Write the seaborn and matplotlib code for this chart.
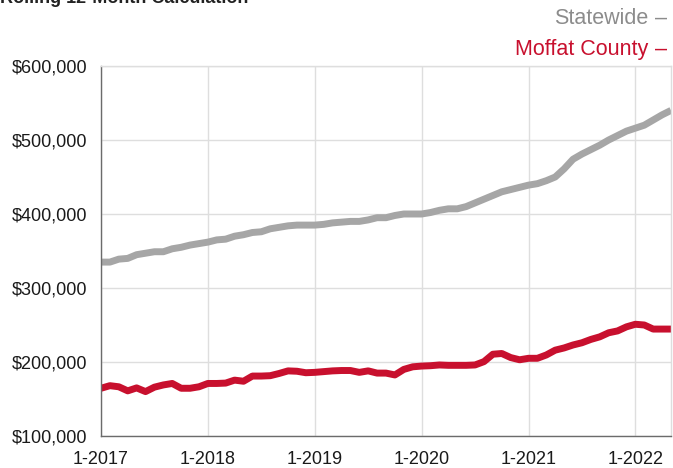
import matplotlib
matplotlib.use("Agg")
import matplotlib.pyplot as plt
import seaborn as sns
import pandas as pd
import numpy as np

# Monthly values, Jan 2017 - May 2022 (thousands of dollars)
statewide = [335, 335, 339, 340, 345, 347, 349, 349, 353, 355, 358, 360,
             362, 365, 366, 370, 372, 375, 376, 380, 382, 384, 385, 385,
             385, 386, 388, 389, 390, 390, 392, 395, 395, 398, 400, 400,
             400, 402, 405, 407, 407, 410, 415, 420, 425, 430, 433, 436,
             439, 441, 445, 450, 461, 474, 481, 487, 493, 500, 506, 512,
             516, 520, 527, 534, 540]
moffat = [164.5, 168, 166.5, 161, 165, 160, 166, 169, 171, 164.5, 164.5, 166.5,
          171, 171, 171.5, 175.5, 174, 181, 181, 181.5, 184.5, 188, 187.5, 185.5,
          186, 187, 188, 188.5, 188.5, 186, 188, 185, 185, 182.5, 190, 193.5,
          194.5, 195, 196, 195.5, 195.5, 195.5, 196, 200.5, 210.5, 211.5, 206, 203,
          205, 205, 209.5, 216, 219, 223, 226, 230.5, 234, 239.5, 242, 247.5,
          251, 250, 244.5, 244.5, 244.5]
series_names = ["Statewide", "Moffat County"]
x_tick_labels = ["1-2017", "1-2018", "1-2019", "1-2020", "1-2021", "1-2022"]
y_ticks = [100000, 200000, 300000, 400000, 500000, 600000]
title = "Rolling 12-Month Calculation"

colors = {"Statewide": "#a6a6a6", "Moffat County": "#c8102e"}

n = len(statewide)
df = pd.DataFrame({
    "month": list(range(n)) * 2,
    "value": [v * 1000 for v in statewide] + [v * 1000 for v in moffat],
    "series": [series_names[0]] * n + [series_names[1]] * n,
})

sns.set_style("white")
plt.rcParams["font.family"] = ["Liberation Sans", "DejaVu Sans"]

fig = plt.figure(figsize=(6.73, 4.68), dpi=100)
ax = fig.add_axes([101 / 673, 1 - 436 / 468, (671 - 101) / 673, (436 - 66) / 468])

sns.lineplot(data=df, x="month", y="value", hue="series", palette=colors,
             linewidth=5.0, ax=ax, legend=False, solid_capstyle="butt")

ax.set_xlim(0, n - 1)
ax.set_ylim(100000, 600000)
ax.set_xticks([i * 12 for i in range(len(x_tick_labels))])
ax.set_xticklabels(x_tick_labels)
ax.set_yticks(y_ticks)
ax.set_yticklabels([f"${v:,.0f}" for v in y_ticks])
ax.set_xlabel("")
ax.set_ylabel("")

ax.grid(True, color="#dedede", linewidth=1.0)
ax.set_axisbelow(True)
for s in ["top", "right"]:
    ax.spines[s].set_color("#dedede")
    ax.spines[s].set_linewidth(1.0)
for s in ["left", "bottom"]:
    ax.spines[s].set_color("#6b6b6b")
    ax.spines[s].set_linewidth(1.0)

ax.tick_params(axis="both", which="both", direction="out", length=6, width=1,
               color="#6b6b6b", labelsize=13, labelcolor="#1a1a1a")
ax.tick_params(axis="y", pad=4)
ax.tick_params(axis="x", pad=5)

# Title (cut off at top as in the reference)
fig.text(0.0, 1 - 3 / 468, title, ha="left", va="baseline", fontsize=13,
         fontweight="bold", color="#222222")

# Legend entries at top right
fig.text(648 / 673, 1 - 18 / 468, "Statewide", ha="right", va="center",
         fontsize=15.5, color="#8c8c8c")
fig.text(655 / 673, 1 - 18 / 468, "–", ha="left", va="center",
         fontsize=15.5, color="#8c8c8c")
fig.text(648 / 673, 1 - 49 / 468, "Moffat County", ha="right", va="center",
         fontsize=15.5, color="#c8102e")
fig.text(655 / 673, 1 - 49 / 468, "–", ha="left", va="center",
         fontsize=15.5, color="#c8102e")

fig.savefig("out.png", dpi=100)
